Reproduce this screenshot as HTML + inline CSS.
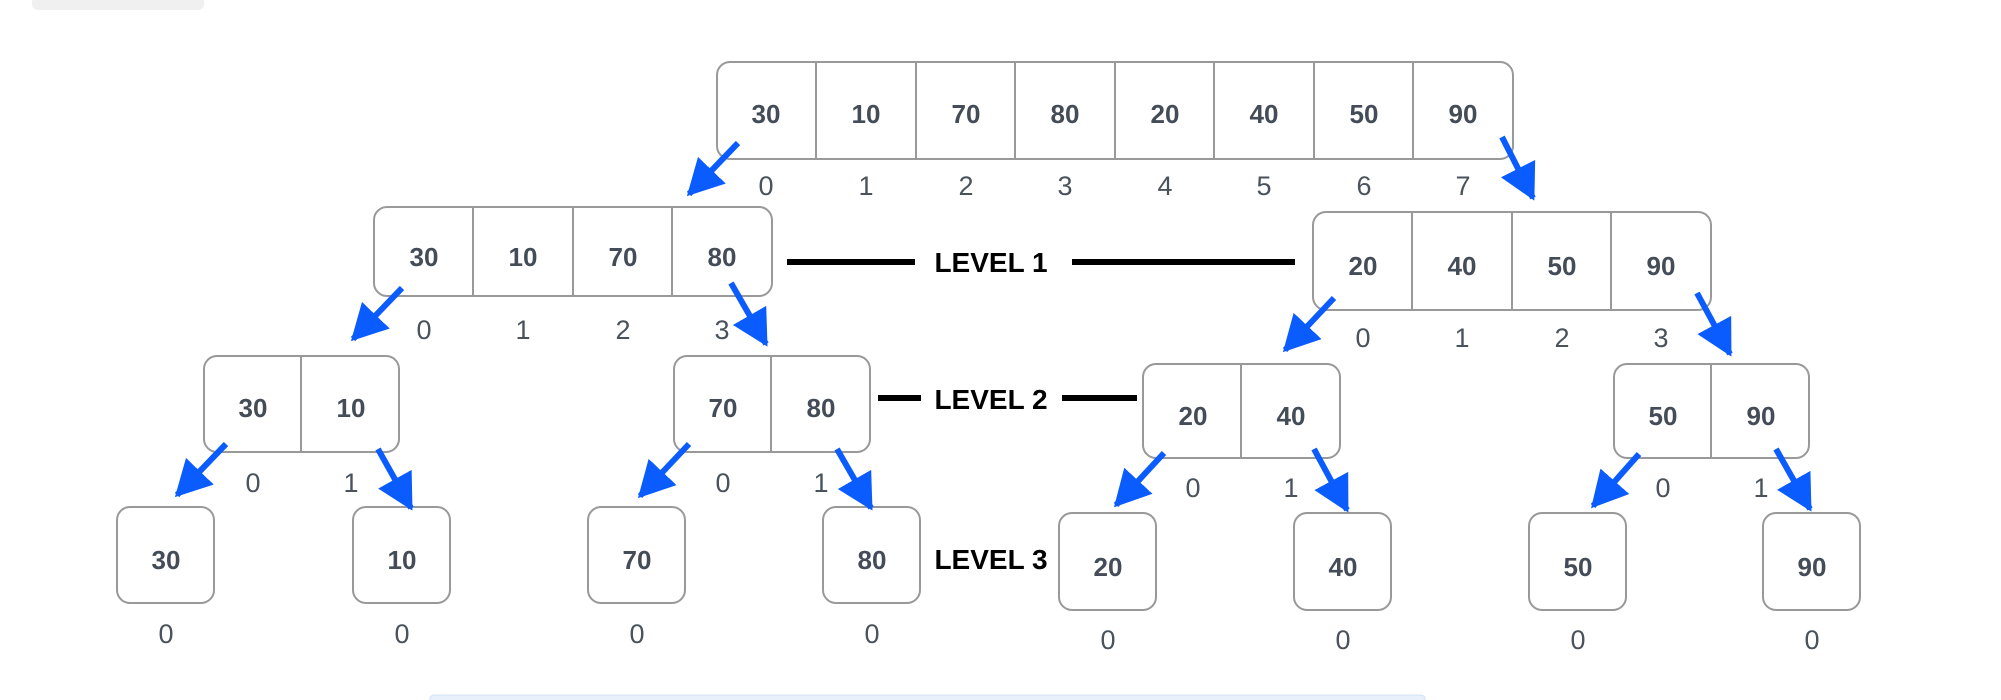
<!DOCTYPE html>
<html><head><meta charset="utf-8"><style>
html,body{margin:0;padding:0;background:#fff;}
svg{display:block;}
.v{font-family:"Liberation Sans",sans-serif;font-weight:bold;font-size:26px;fill:#434c57;text-anchor:middle;}
.i{font-family:"Liberation Sans",sans-serif;font-size:27px;fill:#4a525c;text-anchor:middle;}
.l{font-family:"Liberation Sans",sans-serif;font-weight:bold;font-size:28px;fill:#000;text-anchor:middle;}
.b{fill:#fff;stroke:#999;stroke-width:2;}
.c{stroke:#999;stroke-width:2;}
.a{stroke:#0a5cff;stroke-width:6;}
</style></head><body>
<svg width="2001" height="700" viewBox="0 0 2001 700" xmlns="http://www.w3.org/2000/svg">
<defs><marker id="h" markerWidth="6" markerHeight="6.4" refX="5.5" refY="3.2" orient="auto" markerUnits="strokeWidth"><path d="M0,0 L6,3.2 L0,6.4 z" fill="#0a5cff"/></marker></defs>
<rect x="32" y="-10" width="172" height="20" rx="6" fill="#f0f0f0"/>
<rect x="430" y="695" width="995" height="12" rx="4" fill="#e8f1fb" stroke="#d0e0f0"/>
<!-- top -->
<rect class="b" x="717" y="62" width="796" height="97" rx="13"/>
<g class="c"><line x1="816" y1="62" x2="816" y2="159"/><line x1="916" y1="62" x2="916" y2="159"/><line x1="1015" y1="62" x2="1015" y2="159"/><line x1="1115" y1="62" x2="1115" y2="159"/><line x1="1214" y1="62" x2="1214" y2="159"/><line x1="1314" y1="62" x2="1314" y2="159"/><line x1="1413" y1="62" x2="1413" y2="159"/></g>
<g class="v"><text x="766" y="123">30</text><text x="866" y="123">10</text><text x="966" y="123">70</text><text x="1065" y="123">80</text><text x="1165" y="123">20</text><text x="1264" y="123">40</text><text x="1364" y="123">50</text><text x="1463" y="123">90</text></g>
<g class="i"><text x="766" y="195">0</text><text x="866" y="195">1</text><text x="966" y="195">2</text><text x="1065" y="195">3</text><text x="1165" y="195">4</text><text x="1264" y="195">5</text><text x="1364" y="195">6</text><text x="1463" y="195">7</text></g>
<!-- L1 left -->
<rect class="b" x="374" y="207" width="398" height="89" rx="13"/>
<g class="c"><line x1="473" y1="207" x2="473" y2="296"/><line x1="573" y1="207" x2="573" y2="296"/><line x1="672" y1="207" x2="672" y2="296"/></g>
<g class="v"><text x="424" y="266">30</text><text x="523" y="266">10</text><text x="623" y="266">70</text><text x="722" y="266">80</text></g>
<g class="i"><text x="424" y="339">0</text><text x="523" y="339">1</text><text x="623" y="339">2</text><text x="722" y="339">3</text></g>
<!-- L1 right -->
<rect class="b" x="1313" y="212" width="398" height="98" rx="13"/>
<g class="c"><line x1="1412" y1="212" x2="1412" y2="310"/><line x1="1512" y1="212" x2="1512" y2="310"/><line x1="1611" y1="212" x2="1611" y2="310"/></g>
<g class="v"><text x="1363" y="275">20</text><text x="1462" y="275">40</text><text x="1562" y="275">50</text><text x="1661" y="275">90</text></g>
<g class="i"><text x="1363" y="347">0</text><text x="1462" y="347">1</text><text x="1562" y="347">2</text><text x="1661" y="347">3</text></g>
<!-- level 1 -->
<rect x="787" y="259" width="128" height="6"/><rect x="1072" y="259" width="223" height="6"/>
<text class="l" x="991" y="272">LEVEL 1</text>
<!-- L2 -->
<rect class="b" x="204" y="356" width="195" height="96" rx="13"/><line class="c" x1="301" y1="356" x2="301" y2="452"/>
<g class="v"><text x="253" y="417">30</text><text x="351" y="417">10</text></g>
<g class="i"><text x="253" y="492">0</text><text x="351" y="492">1</text></g>
<rect class="b" x="674" y="356" width="196" height="96" rx="13"/><line class="c" x1="771" y1="356" x2="771" y2="452"/>
<g class="v"><text x="723" y="417">70</text><text x="821" y="417">80</text></g>
<g class="i"><text x="723" y="492">0</text><text x="821" y="492">1</text></g>
<rect class="b" x="1143" y="364" width="197" height="94" rx="13"/><line class="c" x1="1241" y1="364" x2="1241" y2="458"/>
<g class="v"><text x="1193" y="425">20</text><text x="1291" y="425">40</text></g>
<g class="i"><text x="1193" y="497">0</text><text x="1291" y="497">1</text></g>
<rect class="b" x="1614" y="364" width="195" height="94" rx="13"/><line class="c" x1="1711" y1="364" x2="1711" y2="458"/>
<g class="v"><text x="1663" y="425">50</text><text x="1761" y="425">90</text></g>
<g class="i"><text x="1663" y="497">0</text><text x="1761" y="497">1</text></g>
<rect x="878" y="395" width="43" height="6"/><rect x="1062" y="395" width="75" height="6"/>
<text class="l" x="991" y="409">LEVEL 2</text>
<!-- L3 -->
<g>
<rect class="b" x="117" y="507" width="97" height="96" rx="13"/><text class="v" x="166" y="569">30</text><text class="i" x="166" y="643">0</text>
<rect class="b" x="353" y="507" width="97" height="96" rx="13"/><text class="v" x="402" y="569">10</text><text class="i" x="402" y="643">0</text>
<rect class="b" x="588" y="507" width="97" height="96" rx="13"/><text class="v" x="637" y="569">70</text><text class="i" x="637" y="643">0</text>
<rect class="b" x="823" y="507" width="97" height="96" rx="13"/><text class="v" x="872" y="569">80</text><text class="i" x="872" y="643">0</text>
<rect class="b" x="1059" y="513" width="97" height="97" rx="13"/><text class="v" x="1108" y="576">20</text><text class="i" x="1108" y="649">0</text>
<rect class="b" x="1294" y="513" width="97" height="97" rx="13"/><text class="v" x="1343" y="576">40</text><text class="i" x="1343" y="649">0</text>
<rect class="b" x="1529" y="513" width="97" height="97" rx="13"/><text class="v" x="1578" y="576">50</text><text class="i" x="1578" y="649">0</text>
<rect class="b" x="1763" y="513" width="97" height="97" rx="13"/><text class="v" x="1812" y="576">90</text><text class="i" x="1812" y="649">0</text>
</g>
<text class="l" x="991" y="569">LEVEL 3</text>
<!-- arrows -->
<g class="a" marker-end="url(#h)">
<line x1="738" y1="143" x2="689" y2="194"/>
<line x1="1502" y1="137" x2="1533" y2="198"/>
<line x1="402" y1="288" x2="353" y2="339"/>
<line x1="731" y1="283" x2="766" y2="344"/>
<line x1="1334" y1="298" x2="1285" y2="350"/>
<line x1="1697" y1="293" x2="1730" y2="354"/>
<line x1="226" y1="444" x2="177" y2="495"/>
<line x1="378" y1="449" x2="411" y2="508"/>
<line x1="689" y1="444" x2="640" y2="496"/>
<line x1="837" y1="449" x2="871" y2="508"/>
<line x1="1164" y1="453" x2="1116" y2="505"/>
<line x1="1314" y1="449" x2="1347" y2="510"/>
<line x1="1639" y1="454" x2="1593" y2="506"/>
<line x1="1776" y1="449" x2="1810" y2="509"/>
</g>
</svg>
</body></html>
